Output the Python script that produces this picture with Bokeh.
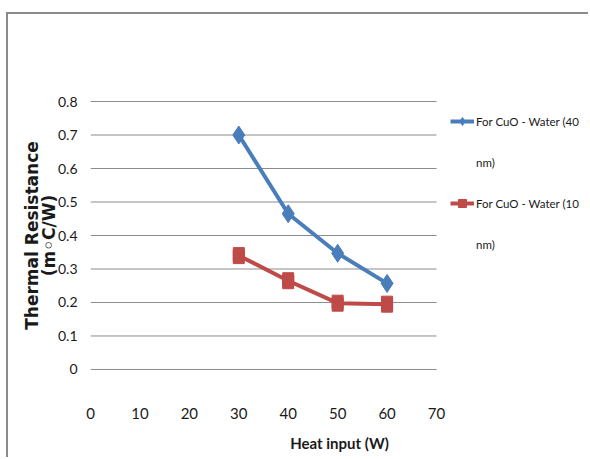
from bokeh.plotting import figure
from bokeh.models import Legend, LegendItem, FixedTicker, Range1d
from bokeh.embed import file_html
from bokeh.resources import INLINE

heat_input = [30, 40, 50, 60]
res_40nm = [0.70, 0.465, 0.347, 0.257]
res_10nm = [0.340, 0.265, 0.198, 0.195]
x_ticks = [0, 10, 20, 30, 40, 50, 60, 70]
y_ticks = [0, 0.1, 0.2, 0.3, 0.4, 0.5, 0.6, 0.7, 0.8]
label_40 = ["For CuO - Water (40", "nm)"]
label_10 = ["For CuO - Water (10", "nm)"]

BLUE = "#4A7EBB"
RED = "#BE4B48"
FONT = "Lato"

# frame spans to the right edge so the legend (drawn inside the frame) is not clipped;
# the plotted axis area is limited to 0..70 via axis bounds and grid segments
p = figure(width=588, height=457, output_backend="svg", toolbar_location=None,
           x_range=Range1d(0, 100.75), y_range=Range1d(-0.015, 0.815),
           min_border_left=90, min_border_right=0, min_border_top=96, min_border_bottom=83)
p.styles = {"box-shadow": "inset 6px 12px 0 0 #ffffff, inset 8px 14px 0 0 #8A8A8A",
            "background-color": "#ffffff"}
p.outline_line_color = None
p.background_fill_color = "white"
p.border_fill_color = None
p.xgrid.grid_line_color = None
p.ygrid.grid_line_color = None

p.xaxis.ticker = FixedTicker(ticks=x_ticks)
p.yaxis.ticker = FixedTicker(ticks=y_ticks)
p.xaxis.bounds = (x_ticks[0], x_ticks[-1])
p.yaxis.bounds = (y_ticks[0], y_ticks[-1])
for ax in (p.xaxis, p.yaxis):
    ax.axis_line_color = None
    ax.major_tick_line_color = None
    ax.minor_tick_line_color = None
    ax.major_label_text_font = FONT
    ax.major_label_text_font_size = "15px"
    ax.major_label_text_color = "#1a1a1a"
p.yaxis.major_label_text_font_size = "14px"
p.xaxis.major_label_standoff = 27
p.yaxis.major_label_standoff = 7

p.xaxis.axis_label = "Heat input (W)"
p.xaxis.axis_label_text_font = FONT
p.xaxis.axis_label_text_font_style = "bold"
p.xaxis.axis_label_text_font_size = "15px"
p.xaxis.axis_label_text_color = "#1a1a1a"
p.xaxis.axis_label_standoff = 12

p.yaxis.axis_label = "Thermal Resistance\n(m\u25E6C/W)"
p.yaxis.axis_label_text_font = "DejaVu Sans"
p.yaxis.axis_label_text_font_style = "bold"
p.yaxis.axis_label_text_font_size = "17px"
p.yaxis.axis_label_text_color = "#1a1a1a"
p.yaxis.axis_label_standoff = -4
p.yaxis.axis_label_text_line_height = 0.85

# horizontal gridlines at the y ticks, spanning the x axis bounds
p.segment(x0=[x_ticks[0]] * len(y_ticks), x1=[x_ticks[-1]] * len(y_ticks),
          y0=y_ticks, y1=y_ticks, line_color="#8C8C8C", line_width=1)

l1 = p.line(heat_input, res_40nm, line_color=BLUE, line_width=4)
m1 = p.scatter(heat_input, res_40nm, marker="diamond", size=18, fill_color=BLUE, line_color=BLUE)
l2 = p.line(heat_input, res_10nm, line_color=RED, line_width=4)
sq = p.scatter(heat_input, res_10nm, marker="square", size=11, fill_color=RED, line_color=RED)
m2 = p.rect(heat_input, res_10nm, width=11, height=16, width_units="screen", height_units="screen",
            fill_color=RED, line_color=RED)
dummy = p.line([], [], line_alpha=0)

legend = Legend(items=[LegendItem(label=label_40[0], renderers=[l1, m1]),
                       LegendItem(label=label_40[1], renderers=[dummy]),
                       LegendItem(label=label_10[0], renderers=[l2, sq]),
                       LegendItem(label=label_10[1], renderers=[dummy])],
                location=(360, 120), border_line_color=None, background_fill_alpha=0,
                padding=0, margin=0, spacing=21, glyph_width=24, glyph_height=20,
                label_height=20, label_standoff=2, label_text_font=FONT,
                label_text_font_size="11.5px", label_text_color="#1a1a1a")
p.add_layout(legend)

open("out.html", "w").write(file_html(p, INLINE))
